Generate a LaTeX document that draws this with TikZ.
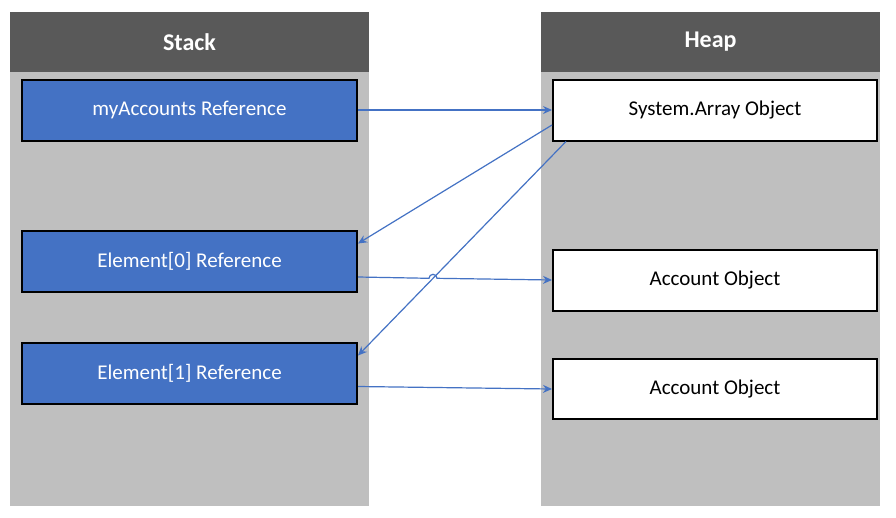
\documentclass[tikz,border=0pt]{standalone}
\usepackage{fontspec}
\setmainfont{Carlito}
\usetikzlibrary{arrows.meta, calc}
\definecolor{hdrgray}{HTML}{595959}
\definecolor{colgray}{HTML}{BFBFBF}
\definecolor{refblue}{HTML}{4472C4}
\begin{document}
\begin{tikzpicture}[x=1pt, y=-1pt,
    column/.style={fill=colgray, draw=none},
    header/.style={fill=hdrgray, text=white, font=\fontsize{24}{28}\selectfont\bfseries},
    refbox/.style={draw=black, line width=2pt, fill=refblue, text=white, font=\fontsize{21}{25}\selectfont},
    objbox/.style={draw=black, line width=2pt, fill=white, text=black, font=\fontsize{21}{25}\selectfont},
    link/.style={draw=refblue, line width=1.2pt, -{Stealth[length=9pt,width=8pt]}}]
  \useasboundingbox (0,0) rectangle (896,517);
  \fill[white] (0,0) rectangle (896,517);

  % Columns
  \fill[column] (10,12) rectangle (369,506);
  \fill[column] (541,12) rectangle (880,506);
  \fill[hdrgray] (10,12) rectangle (369,72);
  \fill[hdrgray] (541,12) rectangle (880,72);
  \node[header] (stack) at (189.5,42) {Stack};
  \node[header] (heap) at (710.5,42) {Heap};

  % Stack boxes
  \node[refbox, minimum width=335pt, minimum height=61pt] (myref) at (189.5,110) {myAccounts Reference};
  \node[refbox, minimum width=335pt, minimum height=61pt] (elem0) at (189.5,261.5) {Element[0] Reference};
  \node[refbox, minimum width=335pt, minimum height=61pt] (elem1) at (189.5,373.5) {Element[1] Reference};

  % Heap boxes
  \node[objbox, minimum width=324pt, minimum height=61pt] (array) at (715,110) {System.Array Object};
  \node[objbox, minimum width=324pt, minimum height=61pt] (acct0) at (715,280) {Account Object};
  \node[objbox, minimum width=324pt, minimum height=60pt] (acct1) at (715,389) {Account Object};

  % Links
  \draw[link] (myref.east) -- (array.west);
  \draw[link] ($(array.west)+(0,15)$) -- ($(elem0.east)+(0,-18)$);
  \draw[link] ($(array.south west)+(14,0)$) -- ($(elem1.east)+(0,-18)$);
  \draw[link] ($(elem0.east)+(0,15.5)$) -- (429,278.3) arc[start angle=180, end angle=0, radius=4pt] -- (acct0.west);
  \draw[link] ($(elem1.east)+(0,13)$) -- (acct1.west);
\end{tikzpicture}
\end{document}
